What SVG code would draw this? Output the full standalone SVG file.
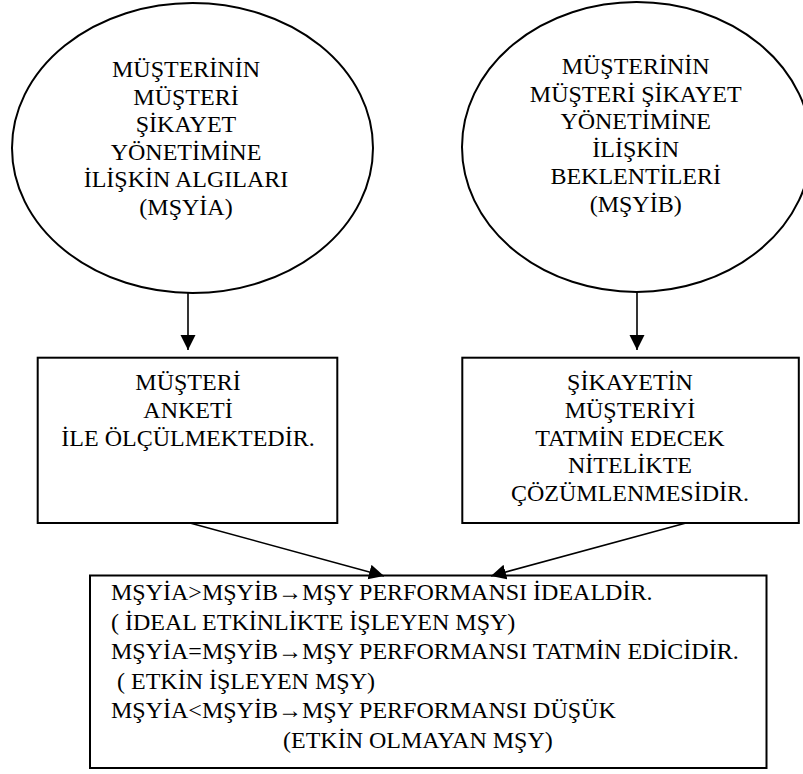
<svg xmlns="http://www.w3.org/2000/svg" width="803" height="774" viewBox="0 0 803 774">
<style>
.shape{fill:#fff;stroke:#000;stroke-width:2}
.t{font-family:"Liberation Serif","Times New Roman",serif;font-size:24px;fill:#000}
.c{text-anchor:middle}
.conn{stroke:#000;stroke-width:1.6;fill:none}
</style>
<defs>
<marker id="ah" markerUnits="userSpaceOnUse" markerWidth="16" markerHeight="16" refX="15" refY="7.5" orient="auto" viewBox="0 0 16 16">
<path d="M0,0 L15,7.5 L0,15 z" fill="#000"/>
</marker>
</defs>
<rect width="803" height="774" fill="#fff"/>
<g id="algilar">
<ellipse class="shape" cx="192.5" cy="148" rx="180.5" ry="145"/>
<text class="t c" x="186"><tspan x="186" y="77">MÜŞTERİNİN</tspan><tspan x="186" y="104.6">MÜŞTERİ</tspan><tspan x="186" y="132.2">ŞİKAYET</tspan><tspan x="186" y="159.8">YÖNETİMİNE</tspan><tspan x="186" y="187.4">İLİŞKİN ALGILARI</tspan><tspan x="186" y="215">(MŞYİA)</tspan></text>
</g>
<g id="beklentiler">
<ellipse class="shape" cx="636.6" cy="147" rx="174.6" ry="145"/>
<text class="t c"><tspan x="635.7" y="74">MÜŞTERİNİN</tspan><tspan x="635.7" y="101.6">MÜŞTERİ ŞİKAYET</tspan><tspan x="635.7" y="129.2">YÖNETİMİNE</tspan><tspan x="635.7" y="156.8">İLİŞKİN</tspan><tspan x="635.7" y="184.4">BEKLENTİLERİ</tspan><tspan x="635.7" y="212">(MŞYİB)</tspan></text>
</g>
<g id="anket">
<rect class="shape" x="37.7" y="357.7" width="299.6" height="165.3"/>
<text class="t c"><tspan x="188" y="390.3">MÜŞTERİ</tspan><tspan x="188" y="417.9">ANKETİ</tspan><tspan x="188" y="445.5">İLE ÖLÇÜLMEKTEDİR.</tspan></text>
</g>
<g id="cozum">
<rect class="shape" x="462.3" y="357.7" width="336.5" height="165.3"/>
<text class="t c"><tspan x="630" y="390.3">ŞİKAYETİN</tspan><tspan x="630" y="417.9">MÜŞTERİYİ</tspan><tspan x="630" y="445.5">TATMİN EDECEK</tspan><tspan x="630" y="473.1">NİTELİKTE</tspan><tspan x="630" y="500.7">ÇÖZÜMLENMESİDİR.</tspan></text>
</g>
<g id="performans">
<rect class="shape" x="90" y="575.5" width="676.5" height="192.5"/>
<text class="t"><tspan x="111" y="600">MŞYİA&gt;MŞYİB→MŞY PERFORMANSI İDEALDİR.</tspan><tspan x="111" y="629.5">( İDEAL ETKİNLİKTE İŞLEYEN MŞY)</tspan><tspan x="111" y="659">MŞYİA=MŞYİB→MŞY PERFORMANSI TATMİN EDİCİDİR.</tspan><tspan x="117" y="688.5">( ETKİN İŞLEYEN MŞY)</tspan><tspan x="111" y="718">MŞYİA&lt;MŞYİB→MŞY PERFORMANSI DÜŞÜK</tspan><tspan x="283" y="747.5">(ETKİN OLMAYAN MŞY)</tspan></text>
</g>
<g id="connectors">
<line class="conn" x1="188" y1="293" x2="188" y2="350" marker-end="url(#ah)"/>
<line class="conn" x1="637" y1="292" x2="637" y2="350" marker-end="url(#ah)"/>
<line class="conn" x1="190" y1="523" x2="384" y2="576" marker-end="url(#ah)"/>
<line class="conn" x1="686" y1="523" x2="491" y2="576" marker-end="url(#ah)"/>
</g>
</svg>
